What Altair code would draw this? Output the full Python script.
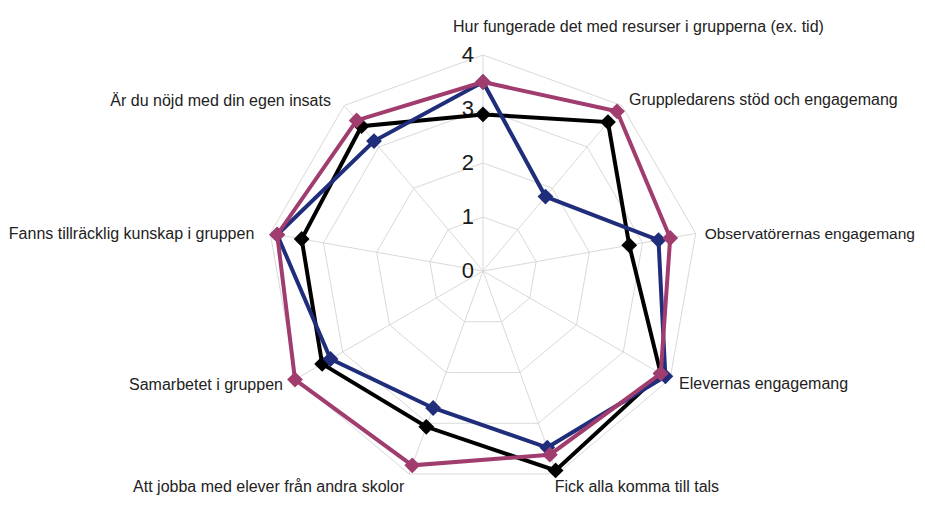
import math
import altair as alt
import pandas as pd

categories = [
    "Hur fungerade det med resurser i grupperna (ex. tid)",
    "Gruppledarens stöd och engagemang",
    "Observatörernas engagemang",
    "Elevernas engagemang",
    "Fick alla komma till tals",
    "Att jobba med elever från andra skolor",
    "Samarbetet i gruppen",
    "Fanns tillräcklig kunskap i gruppen",
    "Är du nöjd med din egen insats",
]
series_names = ["Serie 1", "Serie 2", "Serie 3"]
values_black = [2.9, 3.6, 2.75, 3.8, 3.93, 3.07, 3.44, 3.41, 3.5]
values_blue = [3.5, 1.8, 3.3, 3.9, 3.48, 2.7, 3.26, 3.87, 3.14]
values_pink = [3.5, 3.86, 3.52, 3.8, 3.62, 3.83, 4.02, 3.87, 3.64]
series_colors = ["#000000", "#1f2d7b", "#a03c6e"]
ticks = [0, 1, 2, 3, 4]

n = len(categories)
W, H = 909, 489
UNIT = 54.0
CX, CY = 475.0, 263.0
xs = alt.Scale(domain=[-CX / UNIT, (W - CX) / UNIT], nice=False, zero=False)
ys = alt.Scale(domain=[-(H - CY) / UNIT, CY / UNIT], nice=False, zero=False)


def ang(i):
    return 2 * math.pi * i / n


rmax = max(ticks)

# grid rings
ring_rows = []
for k in ticks[1:]:
    for j in range(n + 1):
        i = j % n
        ring_rows.append(dict(ring=k, o=j, x=k * math.sin(ang(i)), y=k * math.cos(ang(i))))
rings = alt.Chart(pd.DataFrame(ring_rows)).mark_line(color="#d9d9d9", strokeWidth=1).encode(
    x=alt.X("x:Q", scale=xs, axis=None),
    y=alt.Y("y:Q", scale=ys, axis=None),
    detail="ring:N",
    order="o:Q",
)

spoke_rows = [dict(x=0.0, y=0.0, x2=rmax * math.sin(ang(i)), y2=rmax * math.cos(ang(i))) for i in range(n)]
spokes = alt.Chart(pd.DataFrame(spoke_rows)).mark_rule(color="#d9d9d9", strokeWidth=1).encode(
    x=alt.X("x:Q", scale=xs, axis=None),
    y=alt.Y("y:Q", scale=ys, axis=None),
    x2="x2:Q",
    y2="y2:Q",
)

tick_df = pd.DataFrame(dict(x=[0.0] * len(ticks), y=[float(t) for t in ticks], t=[str(t) for t in ticks]))
tick_labels = alt.Chart(tick_df).mark_text(
    align="right", baseline="middle", dx=-9, fontSize=22, font="Liberation Sans", color="#1a1a1a"
).encode(
    x=alt.X("x:Q", scale=xs, axis=None),
    y=alt.Y("y:Q", scale=ys, axis=None),
    text="t:N",
)

# category labels
LR = 4.15
lab_rows = []
for i, c in enumerate(categories):
    lab_rows.append(dict(i=i, cat=c, x=LR * math.sin(ang(i)), y=LR * math.cos(ang(i))))
lab_df = pd.DataFrame(lab_rows)


def lab_layer(sel, align, dx=0, dy=0, size=16):
    return alt.Chart(lab_df).transform_filter(
        alt.FieldOneOfPredicate(field="i", oneOf=sel)
    ).mark_text(
        align=align, baseline="middle", dx=dx, dy=dy, fontSize=size, font="Liberation Sans", color="#222222"
    ).encode(
        x=alt.X("x:Q", scale=xs, axis=None),
        y=alt.Y("y:Q", scale=ys, axis=None),
        text="cat:N",
    )


labels = [
    lab_layer([0], "left", dx=-30, dy=-20),
    lab_layer([1, 3], "left", dx=2, dy=1),
    lab_layer([2], "left", dx=1, dy=2, size=15.5),
    lab_layer([4], "left", dx=-5, dy=5),
    lab_layer([5], "right", dx=-2, dy=5),
    lab_layer([6], "right", dx=-6, dy=2),
    lab_layer([7, 8], "right", dx=-8, dy=2),
]


def series_layers(name, vals, color):
    rows = []
    for j in range(n + 1):
        i = j % n
        v = vals[i]
        rows.append(dict(series=name, o=j, cat=categories[i], value=v,
                         x=v * math.sin(ang(i)), y=v * math.cos(ang(i))))
    df = pd.DataFrame(rows)
    base = alt.Chart(df).encode(
        x=alt.X("x:Q", scale=xs, axis=None),
        y=alt.Y("y:Q", scale=ys, axis=None),
    )
    line = base.mark_line(color=color, strokeWidth=4, strokeJoin="miter").encode(order="o:Q")
    pts = base.transform_filter("datum.o < %d" % n).mark_point(
        shape="diamond", filled=True, size=250, opacity=1, color=color
    )
    return [line, pts]


layers = [rings, spokes, tick_labels]
for nm, vals, col in zip(series_names, [values_black, values_blue, values_pink], series_colors):
    layers += series_layers(nm, vals, col)
layers += labels

chart = alt.layer(*layers).properties(
    width=W, height=H, autosize=alt.AutoSizeParams(type="none"), padding=0
).configure_view(stroke=None)

chart.save("out.html", embed_options={"renderer": "svg", "actions": False})
